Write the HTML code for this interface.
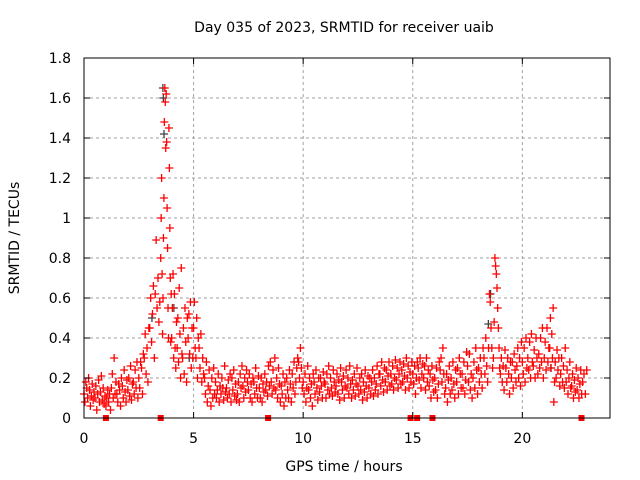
<!DOCTYPE html>
<html><head><meta charset="utf-8"><style>
body{margin:0;background:#fff}
svg{display:block;font-family:"DejaVu Sans","Liberation Sans",sans-serif;font-size:14px}
</style></head><body>
<svg id="c" width="640" height="480">
<rect x="0" y="0" width="640" height="480" fill="#fff"/>
<g id="grid"></g>
<g id="gray"></g>
<g id="red"></g>
<g id="gaps"></g>
<rect x="84" y="58" width="526" height="360" fill="none" stroke="#000" stroke-width="1"/>
<g id="ticks"></g>
<text x="344" y="32" text-anchor="middle">Day 035 of 2023, SRMTID for receiver uaib</text>
<text x="344" y="471" text-anchor="middle">GPS time / hours</text>
<text transform="translate(19,238) rotate(-90)" text-anchor="middle">SRMTID / TECUs</text>
</svg>
<script>
const xTicks=[0,5,10,15,20];
const yTicks=[0,0.2,0.4,0.6,0.8,1,1.2,1.4,1.6,1.8];
const yTickLabels=["0","0.2","0.4","0.6","0.8","1","1.2","1.4","1.6","1.8"];
const stepTimes=[];for(let i=0;i<=91;i++)stepTimes.push(i*0.25);
const stepValues=[
[.12,.08,.18,.15,.10,.20],[.14,.06,.11,.17,.09,.13],[.10,.16,.04,.12,.19,.08],[.13,.21,.09,.15,.07,.11],
[.06,.10,.14,.08,.12,.04],[.15,.22,.10,.30,.12,.18],[.12,.08,.17,.14,.06,.20],[.16,.10,.24,.13,.08,.19],
[.14,.20,.11,.26,.09,.17],[.18,.12,.24,.15,.28,.10],[.20,.15,.28,.25,.12,.32],[.30,.42,.22,.35,.18,.45],
[.45,.60,.38,.52,.66,.30],[.62,.89,.55,.70,.48,.58],[.80,1.00,1.20,.72,.42,.60,.90,1.10,1.48,1.65,1.58,1.35],[1.62,1.38,1.05,.85,.55,.40,1.45,1.25,.95,.70,.38,.62],
[.40,.55,.72,.30,.62,.35,.25,.48],[.35,.50,.28,.65,.42,.20,.75,.32],[.30,.45,.22,.55,.38,.18,.50],[.40,.52,.32,.58,.25,.45,.30],
[.45,.58,.35,.30,.50,.20,.40],[.35,.25,.42,.18,.30,.22],[.20,.12,.28,.08,.16,.24],[.14,.06,.20,.10,.25,.12],
[.18,.10,.14,.22,.08,.16],[.12,.20,.15,.09,.26,.13],[.15,.10,.19,.12,.22,.08],[.20,.14,.24,.11,.17,.09],
[.12,.18,.08,.22,.15,.26],[.16,.10,.20,.13,.24,.18],[.14,.22,.10,.17,.08,.20],[.18,.12,.25,.15,.10,.21],
[.15,.10,.20,.08,.17,.13],[.22,.14,.18,.11,.26,.16],[.28,.18,.12,.24,.15,.30],[.14,.20,.10,.25,.17,.08],
[.16,.12,.22,.06,.18,.10],[.20,.14,.10,.24,.17,.08],[.22,.15,.28,.12,.18,.25],[.30,.28,.20,.35,.25,.15],
[.18,.12,.22,.08,.15,.26],[.14,.20,.10,.17,.06,.22],[.18,.12,.24,.15,.09,.20],[.13,.20,.16,.10,.23,.18],
[.17,.10,.22,.14,.26,.12],[.20,.15,.11,.24,.18,.13],[.16,.22,.12,.19,.09,.25],[.18,.14,.21,.10,.16,.24],
[.15,.20,.12,.26,.17,.10],[.19,.14,.22,.11,.17,.25],[.16,.12,.20,.14,.22,.09],[.18,.13,.24,.16,.10,.21],
[.15,.20,.12,.18,.24,.11],[.20,.14,.17,.26,.12,.22],[.22,.16,.28,.19,.13,.25],[.18,.24,.14,.21,.28,.16],
[.22,.17,.26,.14,.20,.29],[.19,.25,.15,.22,.28,.17],[.24,.18,.27,.21,.14,.30],[.20,.26,.15,.23,.18,.28],
[.22,.17,.26,.12,.20,.28],[.25,.19,.30,.15,.22,.27],[.20,.26,.14,.30,.18,.24],[.16,.22,.10,.26,.19,.13],
[.20,.14,.25,.10,.17,.28],[.24,.30,.18,.35,.22,.12],[.15,.22,.08,.19,.26,.12],[.20,.14,.28,.17,.10,.24],
[.18,.25,.12,.30,.22,.15],[.22,.15,.28,.12,.19,.33],[.26,.18,.32,.14,.22,.10],[.20,.28,.15,.35,.24,.12],
[.25,.18,.30,.22,.15,.35],[.30,.22,.40,.26,.18,.35],[.62,.58,.45,.35,.25,.30,.48],[.80,.76,.72,.65,.55,.45,.35,.25],
[.22,.30,.18,.26,.14,.34],[.25,.18,.30,.22,.12,.28],[.20,.28,.15,.32,.24,.18],[.26,.35,.20,.30,.16,.38],
[.28,.22,.35,.18,.40,.25],[.30,.24,.38,.20,.42,.28],[.26,.34,.20,.40,.30,.22],[.32,.25,.40,.28,.45,.20],
[.30,.38,.24,.45,.28,.35],[.35,.50,.25,.42,.30,.55,.08,.18],[.28,.20,.34,.24,.30,.16],[.22,.30,.18,.26,.15,.35],
[.18,.24,.12,.20,.28,.15],[.16,.22,.10,.19,.13,.25],[.14,.20,.10,.17,.24,.12],[.18,.22,.12,.24]
];
const grayTimes=[3.6,3.62,3.65,4.1,18.55,18.45,3.1,4.8,21.3];
const grayValues=[1.65,1.6,1.42,0.55,0.62,0.47,0.5,0.3,0.25];
const gapTimes=[1.0,3.5,8.4,14.9,15.2,15.9,22.7];
const X=t=>84+t*(526/24), Y=v=>418-v*200;
const NS="http://www.w3.org/2000/svg";
function mk(tag,parent,attrs){const e=document.createElementNS(NS,tag);for(const k in attrs)e.setAttribute(k,attrs[k]);parent.appendChild(e);return e;}
const grid=document.getElementById('grid'),ticks=document.getElementById('ticks');
xTicks.forEach(t=>{
  if(t>0){const g=mk('line',grid,{x1:X(t),x2:X(t),y1:58,y2:418,stroke:'#a0a0a0','stroke-dasharray':'3,3'});
  
  }
  mk('line',ticks,{x1:X(t),x2:X(t),y1:418,y2:412,stroke:'#000'});
  mk('line',ticks,{x1:X(t),x2:X(t),y1:58,y2:64,stroke:'#000'});
  const l=mk('text',ticks,{x:X(t),y:443,'text-anchor':'middle'});l.textContent=t;
  
  
});
yTicks.forEach((v,i)=>{
  if(v>0&&v<1.8){const g=mk('line',grid,{x1:84,x2:610,y1:Y(v),y2:Y(v),stroke:'#a0a0a0','stroke-dasharray':'3,3'});
  
  }
  mk('line',ticks,{x1:84,x2:90,y1:Y(v),y2:Y(v),stroke:'#000'});
  mk('line',ticks,{x1:610,x2:604,y1:Y(v),y2:Y(v),stroke:'#000'});
  const l=mk('text',ticks,{x:71,y:Y(v)+5,'text-anchor':'end'});l.textContent=yTickLabels[i];
  
  
});
function cross(parent,t,v,col){const x=X(t),y=Y(v);
  const p=mk('path',parent,{d:`M${x-4} ${y}H${x+4}M${x} ${y-4}V${y+4}`,stroke:col,'stroke-width':1.3,fill:'none'});
  
  }
const gray=document.getElementById('gray'),red=document.getElementById('red');
grayTimes.forEach((t,i)=>cross(gray,t,grayValues[i],'#404040'));
stepTimes.forEach((t,i)=>{const vs=stepValues[i]||[];const n=vs.length;
  vs.forEach((v,k)=>cross(red,t+k*0.25/n,v,'#ff0000'));});
const gaps=document.getElementById('gaps');
gapTimes.forEach(t=>{const r=mk('rect',gaps,{x:X(t)-3,y:415,width:6,height:6,fill:'#ff0000'});
  
  });
</script>
</body></html>
